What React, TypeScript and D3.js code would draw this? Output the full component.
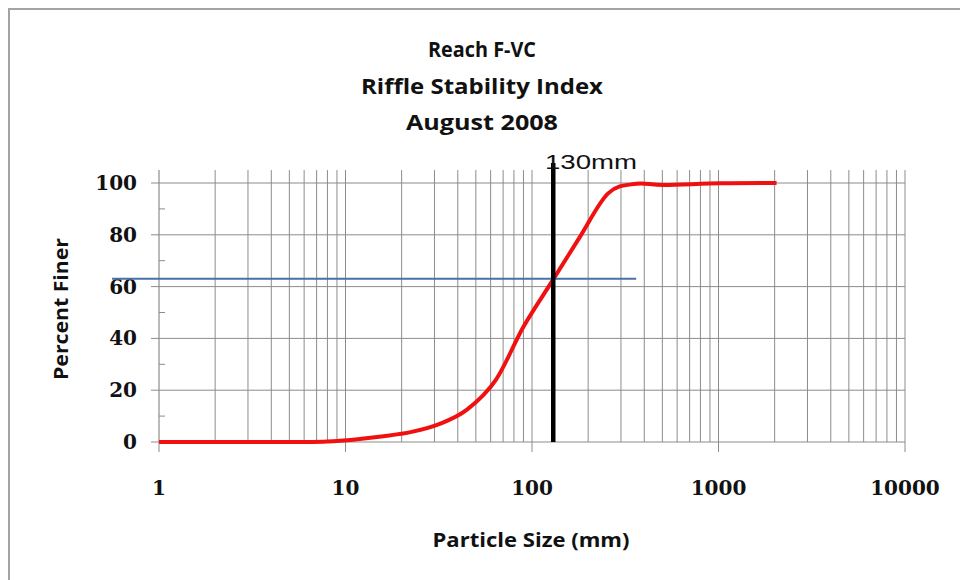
import * as d3 from 'd3';

const W = 960;
const H = 580;
const [mt, mr, mb, ml] = [170, 54, 138, 159];

// particle size classes (mm) and cumulative percent finer
const sizes = [1, 2, 4, 5.7, 8, 11.3, 16, 22.6, 32, 45, 64, 90, 128, 180, 256, 362, 512, 1024, 2048];
const finer = [0, 0, 0, 0, 0.2, 1.0, 2.2, 3.9, 7, 12.6, 24, 44.5, 62, 79, 96, 99.7, 99.2, 99.9, 100];

const titleLines = ['Reach F-VC', 'Riffle Stability Index', 'August 2008'];
const yTicks = [0, 20, 40, 60, 80, 100];
const yMinor = [10, 30, 50, 70, 90];
const xTicks = [1, 10, 100, 1000, 10000];

const d50Size = 130; // black marker
const rsiPercent = 63; // blue marker
const rsiSpan = [0.56, 362];

export default function App() {
    const x = d3.scaleLog().domain([1, 10000]).range([ml, W - mr - 1]);
    const y = d3.scaleLinear().domain([0, 100]).range([H - mb, H - mb - 259]);
    const yTop = y(105);

    const grid: number[] = [];
    for (let p = 0; p < 4; p++) {
        for (let k = 2; k <= 10; k++) grid.push(k * 10 ** p);
    }

    const line = d3
        .line<number>()
        .x((_, i) => x(sizes[i]))
        .y((d) => y(d))
        .curve(d3.curveCatmullRom.alpha(0));

    const titleFont = "'Open Sans', 'Noto Sans', sans-serif";
    const tickFont = "'DejaVu Serif', serif";
    const gridCol = '#8c8c8c';

    return (
        <div style={{ position: 'fixed', left: 0, top: 0 }}>
            <svg width={W} height={H} style={{ display: 'block', background: '#fff' }}>
                <rect x={9} y={9} width={W + 20} height={H + 20} fill="none" stroke="#a3a3a3" strokeWidth={2} />

                {titleLines.map((t, i) => (
                    <text
                        key={t}
                        x={482}
                        y={57 + i * 36.5}
                        textAnchor="middle"
                        fontFamily={titleFont}
                        fontWeight={700}
                        fontSize={21}
                        fill="#111"
                        textLength={[108, 242, 152][i]}
                        lengthAdjust="spacingAndGlyphs"
                    >
                        {t}
                    </text>
                ))}

                {/* horizontal grid */}
                {yTicks.map((v) => (
                    <line key={v} x1={ml - 8} x2={x(10000)} y1={y(v)} y2={y(v)} stroke={gridCol} strokeWidth={1} />
                ))}
                {/* vertical grid */}
                {grid.map((v) => (
                    <line key={v} x1={x(v)} x2={x(v)} y1={yTop} y2={y(0)} stroke={gridCol} strokeWidth={1} />
                ))}
                {/* y axis */}
                <line x1={ml} x2={ml} y1={yTop} y2={y(0)} stroke={gridCol} strokeWidth={1.2} />
                {yMinor.map((v) => (
                    <line key={v} x1={ml} x2={ml + 6} y1={y(v)} y2={y(v)} stroke={gridCol} strokeWidth={1} />
                ))}
                {/* x axis major ticks */}
                {xTicks.map((v) => (
                    <line key={v} x1={x(v)} x2={x(v)} y1={y(0)} y2={y(0) + 10} stroke={gridCol} strokeWidth={1} />
                ))}

                {yTicks.map((v) => (
                    <text
                        key={v}
                        x={137}
                        y={y(v) + 7}
                        textAnchor="end"
                        fontFamily={tickFont}
                        fontWeight={700}
                        fontSize={20}
                        fill="#111"
                    >
                        {v}
                    </text>
                ))}
                {xTicks.map((v) => (
                    <text
                        key={v}
                        x={x(v)}
                        y={495}
                        textAnchor="middle"
                        fontFamily={tickFont}
                        fontWeight={700}
                        fontSize={20}
                        fill="#111"
                    >
                        {v}
                    </text>
                ))}

                {/* data */}
                <path d={line(finer) || ''} fill="none" stroke="#f01010" strokeWidth={4} strokeLinejoin="round" />
                <line
                    x1={x(rsiSpan[0])}
                    x2={x(rsiSpan[1])}
                    y1={y(rsiPercent)}
                    y2={y(rsiPercent)}
                    stroke="#4a70a8"
                    strokeWidth={2}
                />
                <line x1={x(d50Size)} x2={x(d50Size)} y1={163} y2={y(0)} stroke="#000" strokeWidth={4.5} />
                <text
                    x={545}
                    y={169}
                    fontFamily="'Liberation Sans', Arial, sans-serif"
                    fontSize={21}
                    fill="#111"
                    textLength={92}
                    lengthAdjust="spacingAndGlyphs"
                >
                    {d50Size}mm
                </text>

                {/* axis titles */}
                <text
                    transform={`translate(68, ${309}) rotate(-90)`}
                    textAnchor="middle"
                    fontFamily={titleFont}
                    fontWeight={700}
                    fontSize={19}
                    fill="#111"
                    textLength={142}
                    lengthAdjust="spacingAndGlyphs"
                >
                    Percent Finer
                </text>
                <text
                    x={531}
                    y={547}
                    textAnchor="middle"
                    fontFamily={titleFont}
                    fontWeight={700}
                    fontSize={19}
                    fill="#111"
                    textLength={197}
                    lengthAdjust="spacingAndGlyphs"
                >
                    Particle Size (mm)
                </text>
            </svg>
        </div>
    );
}
